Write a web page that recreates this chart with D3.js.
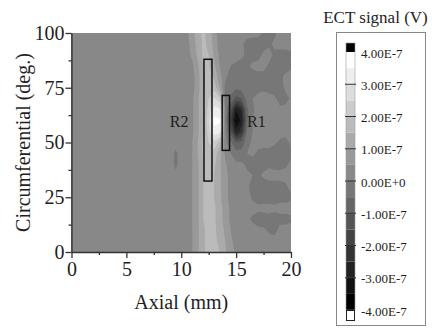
<!DOCTYPE html>
<html><head><meta charset="utf-8">
<script src="https://cdn.jsdelivr.net/npm/d3@7"></script>
<style>
body{margin:0;background:#fff}
svg{display:block}
text{font-family:"Liberation Serif","DejaVu Serif","Times New Roman",serif;fill:#1e1e1e}
</style>
</head><body>
<svg id="c" width="432" height="328"></svg>
<script>
// ---- data (signal in units of 1e-8 V) ----
const axialCols = [9.5,10,10.5,11,11.5,12,12.5,13,13.5,14,14.5,15,15.5,16,16.5,17,17.5,18,18.5,19,19.5,20];
const circRows  = [100,95,90,85,80,75,70,65,60,55,50,45,40,35,30,25,20,15,10,5,0];
const baseSignal = 2;          // uniform signal read for axial 0 .. 9 mm
const baseCols = [0,0.5,1,1.5,2,2.5,3,3.5,4,4.5,5,5.5,6,6.5,7,7.5,8,8.5,9];
const ectGrid = [
  [2,2,4,8,13,16,13,7,3,2,2,2,2,2,2,2,-1,-2,-1,2,2,2],
  [2,2,3,7,12,16,14,8,3,2,2,2,1,-2,-3,-3,-2,-1,1,2,2,2],
  [2,2,3,6,11,16,15,9,4,2,2,2,1,-1,-2,-2,1,2,-1,-2,-2,-1],
  [2,2,2,4,9,15,16,11,5,1,0,-1,-2,-1,1,2,2,-1,-2,-3,-2,-1],
  [2,2,2,3,8,14,17,14,7,1,-2,-2,-2,-1,-2,-2,-2,-2,-2,-1,1,2],
  [2,2,2,3,8,14,18,18,10,-1,-3,-4,-3,-2,-2,-2,-1,-2,-3,-2,1,2],
  [2,2,2,4,9,15,20,26,22,0,-6,-12,-10,-3,0,2,2,2,1,-2,-2,1],
  [2,2,2,4,9,15,22,32,31,1,-14,-30,-24,-6,-1,2,2,2,2,1,2,2],
  [2,2,2,4,9,15,24,37,36,0,-18,-36,-28,-6,0,2,2,2,2,2,2,2],
  [2,2,2,4,9,15,22,33,32,1,-12,-28,-22,-4,0,2,2,2,2,2,2,2],
  [2,2,2,5,10,16,20,24,18,2,-4,-10,-8,-2,1,2,2,2,1,-1,-2,1],
  [-1,2,2,5,10,16,18,18,12,4,0,-3,-3,0,1,-1,-2,-2,-3,-2,-2,-1],
  [-1,2,2,5,9,15,17,16,11,6,2,1,1,-1,-2,-3,-2,-1,-2,-2,-1,1],
  [1,2,2,5,9,15,17,15,11,7,3,2,2,1,0,-1,1,2,2,2,2,2],
  [2,2,2,5,9,15,17,15,11,7,3,2,2,1,-2,-3,-3,-2,-2,-2,-1,2],
  [2,2,2,5,9,15,17,15,11,7,3,2,2,2,-1,-2,-3,-3,-2,-2,-2,-1],
  [2,2,2,5,9,15,17,16,12,8,4,2,2,2,2,1,2,2,1,2,2,2],
  [2,2,2,5,9,15,17,16,12,8,4,2,2,1,-1,-2,-3,-2,-2,-2,-2,-1],
  [2,2,2,5,9,14,17,16,13,9,5,2,2,2,2,1,1,-1,-2,2,2,2],
  [2,2,2,5,9,14,17,16,14,10,6,3,2,2,2,2,2,2,2,2,2,2],
  [2,2,2,5,9,14,17,17,15,11,7,4,2,2,2,2,2,2,2,2,2,2]
];
const contourLevels = [-40,-35,-30,-25,-20,-15,-10,-5,0,5,10,15,20,25,30,35];
const xTicks = [0,5,10,15,20], xMinor = [2.5,7.5,12.5,17.5];
const yTicks = [0,25,50,75,100], yMinor = [12.5,37.5,62.5,87.5];
const legendTicks  = [40,30,20,10,0,-10,-20,-30,-40];
const legendLabels = ["4.00E-7","3.00E-7","2.00E-7","1.00E-7","0.00E+0","-1.00E-7","-2.00E-7","-3.00E-7","-4.00E-7"];
const regions = [
  {name:"R2", x0:12.07, x1:12.8, y0:32.4, y1:88.0, lx:9.8,  ly:59.5},
  {name:"R1", x0:13.73, x1:14.4, y0:46.4, y1:71.5, lx:16.85, ly:59.5}
];

// ---- drawing ----
const svg = d3.select("#c");
const x = d3.scaleLinear().domain([0,20]).range([71.5,291]);
const y = d3.scaleLinear().domain([0,100]).range([252,33]);
const grayOf = d3.scaleLinear().domain([-40,35]).range([0,255]);
const bandColor = t => { const g = Math.round(grayOf(t)); return `rgb(${g},${g},${g})`; };

svg.append("clipPath").attr("id","plotclip").append("rect")
  .attr("x",x(0)).attr("y",y(100)).attr("width",x(20)-x(0)).attr("height",y(0)-y(100));
const plot = svg.append("g").attr("clip-path","url(#plotclip)");

const allCols = baseCols.concat(axialCols);
const fullGrid = ectGrid.map(r => baseCols.map(() => baseSignal).concat(r));
const nx = allCols.length, ny = circRows.length;
const dxc = allCols[1]-allCols[0], dyc = circRows[1]-circRows[0];
const contours = d3.contours().size([nx,ny]).thresholds(contourLevels)(fullGrid.flat());
const proj = d3.geoTransform({point:function(px,py){
  this.stream.point(x(allCols[0]+(px-0.5)*dxc), y(circRows[0]+(py-0.5)*dyc));
}});
const path = d3.geoPath(proj);
plot.selectAll("path.c").data(contours).join("path").attr("class","c")
  .attr("d",path).attr("fill",d=>bandColor(d.value));

// region rectangles
svg.selectAll("rect.reg").data(regions).join("rect").attr("class","reg")
  .attr("x",d=>x(d.x0)).attr("y",d=>y(d.y1)).attr("width",d=>x(d.x1)-x(d.x0)).attr("height",d=>y(d.y0)-y(d.y1))
  .attr("fill","none").attr("stroke","#111").attr("stroke-width",1.5);
svg.selectAll("text.reg").data(regions).join("text").attr("class","reg")
  .attr("x",d=>x(d.lx)).attr("y",d=>y(d.ly)).attr("text-anchor","middle").attr("dominant-baseline","central")
  .style("font-size","16px").text(d=>d.name);

// axes
const fs = "20px";
const gx = svg.append("g").attr("transform",`translate(0,${y(0)})`)
  .call(d3.axisBottom(x).tickValues(xTicks).tickSize(6).tickSizeOuter(0).tickPadding(4));
gx.append("g").call(d3.axisBottom(x).tickValues(xMinor).tickSize(3).tickFormat("")).select(".domain").remove();
const gy = svg.append("g").attr("transform",`translate(${x(0)},0)`)
  .call(d3.axisLeft(y).tickValues(yTicks).tickSize(6).tickSizeOuter(0).tickPadding(1));
gy.append("g").call(d3.axisLeft(y).tickValues(yMinor).tickSize(3).tickFormat("")).select(".domain").remove();
svg.selectAll(".tick text").style("font-size",fs).attr("fill","#1e1e1e");
svg.selectAll(".domain,.tick line").attr("stroke","#333").attr("stroke-width",1.3);

svg.append("text").attr("x",(x(0)+x(20))/2).attr("y",309).attr("text-anchor","middle").style("font-size","20px").text("Axial (mm)");
svg.append("text").attr("transform",`translate(23,${(y(0)+y(100))/2}) rotate(-90)`).attr("text-anchor","middle")
  .attr("dominant-baseline","central").style("font-size","20px").text("Circumferential (deg.)");

// legend
const ly = d3.scaleLinear().domain([-40,40]).range([310,52]);
svg.append("text").attr("x",375.5).attr("y",23).attr("text-anchor","middle").style("font-size","17px").text("ECT signal (V)");
svg.append("rect").attr("x",336.5).attr("y",32.5).attr("width",89).attr("height",293).attr("fill","none").attr("stroke","#888").attr("stroke-width",1);
const sx = 346, sw = 9;
const lg = svg.append("g");
lg.selectAll("rect.band").data(contourLevels).join("rect").attr("class","band")
  .attr("x",sx).attr("y",d=>ly(d+5)).attr("width",sw).attr("height",d=>ly(d)-ly(d+5)).attr("fill",d=>bandColor(d));
lg.append("rect").attr("x",sx).attr("y",ly(40)-9).attr("width",sw).attr("height",9).attr("fill","#000");
lg.append("rect").attr("x",sx).attr("y",ly(40)-9).attr("width",sw).attr("height",ly(-40)-ly(40)+9).attr("fill","none").attr("stroke","#999").attr("stroke-width",0.6);
lg.append("rect").attr("x",sx+0.5).attr("y",ly(-40)+0.5).attr("width",sw-1).attr("height",10).attr("fill","#fff").attr("stroke","#222").attr("stroke-width",1);
lg.selectAll("line.div").data(legendTicks.slice(1,-1)).join("line").attr("class","div")
  .attr("x1",sx-1).attr("x2",sx+sw+1).attr("y1",d=>ly(d)).attr("y2",d=>ly(d)).attr("stroke","#333").attr("stroke-width",1);
lg.selectAll("text.lab").data(legendTicks).join("text").attr("class","lab")
  .attr("x",361).attr("y",d=>ly(d)+1).attr("dominant-baseline","central").style("font-size","13px")
  .text((d,i)=>legendLabels[i]);
</script>
</body></html>
